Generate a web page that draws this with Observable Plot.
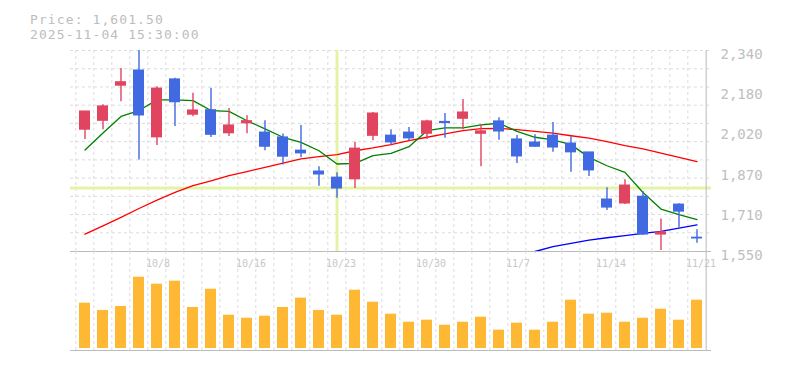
<!DOCTYPE html>
<html>
<head>
<meta charset="utf-8">
<script src="https://cdn.jsdelivr.net/npm/d3@7"></script>
<script src="https://cdn.jsdelivr.net/npm/@observablehq/plot@0.6"></script>
<style>
  body { margin: 0; background: #fff; }
  #wrap { position: relative; width: 785px; height: 370px; overflow: hidden; background: #fff; }
  #wrap svg { position: absolute; left: 0; top: 0; }
  .t { position: absolute; left: 30px; font: 13px/15px "DejaVu Sans Mono", monospace; letter-spacing: 1.1px; color: #bdbdbd; white-space: pre; }
</style>
</head>
<body>
<div id="wrap">
  <div class="t" id="t1" style="top:11.8px"></div>
  <div class="t" id="t2" style="top:26.8px"></div>
</div>
<script>
// ---- data ----
const titleLine1 = "Price: 1,601.50";
const titleLine2 = "2025-11-04 15:30:00";

const dates = ["10/2","10/3","10/6","10/7","10/8","10/9","10/10","10/14","10/15","10/16","10/17","10/20","10/21","10/22","10/23","10/24","10/27","10/28","10/29","10/30","10/31","11/4","11/5","11/6","11/7","11/10","11/11","11/12","11/13","11/14","11/17","11/18","11/19","11/20","11/21"];
const opens  = [2029,2064,2202,2261,1999,2226,2088,2105,2015,2054,2017,1998,1946,1864,1840,1834,2005,2005,2017,2013,2059,2072,2013,2061,1990,1978,2005,1974,1939,1754,1739,1765,1617,1734,1604];
const highs  = [2100,2127,2269,2340,2198,2231,2172,2192,2112,2084,2064,2012,2045,1883,1860,1979,2096,2029,2037,2066,2092,2147,2049,2076,2006,2009,2057,2001,1939,1801,1832,1785,1678,1738,1635];
const lows   = [1990,2029,2139,1910,1967,2041,2080,1998,2002,2013,1946,1890,1918,1806,1759,1798,1985,1969,1985,1990,1995,2029,1883,1987,1896,1959,1940,1861,1845,1711,1735,1613,1554,1641,1582];
const closes = [2100,2120,2215,2085,2190,2137,2104,2009,2045,2062,1962,1923,1936,1853,1798,1954,2092,1979,1995,2061,2055,2096,2022,2022,1924,1962,1959,1940,1869,1723,1809,1617,1625,1707,1601.5];
const ma5  = [1949,2016,2081,2104,2146,2146,2143,2104,2101,2064,2032,1999,1979,1946,1894,1896,1927,1936,1962,2025,2036,2036,2048,2054,2022,1999,1989,1970,1920,1887,1861,1782,1717,1695,1675];
const ma25 = [1618,1651,1684,1719,1752,1782,1809,1828,1848,1864,1881,1897,1914,1923,1931,1946,1957,1970,1986,1999,2012,2025,2033,2034,2029,2022,2015,2005,1996,1982,1966,1953,1937,1920,1903];
const ma75 = [null,null,null,null,null,null,null,null,null,null,null,null,null,null,null,null,null,null,null,null,null,null,null,null,null,1550,1569,1582,1595,1604,1612,1621,1629,1642,1655];
const volumes = [467,392,433,735,663,694,423,611,343,312,333,423,519,392,343,601,477,354,271,292,240,271,323,189,261,189,271,498,354,364,271,312,405,292,498];

const xTickDates = ["10/8","10/16","10/23","10/30","11/7","11/14","11/21"];
const yTickValues = [1550,1708,1866,2024,2182,2340];
const yTickLabels = ["1,550","1,710","1,870","2,020","2,180","2,340"];
const crossDate = "10/23";
const crossPrice = 1800;
const priceDomain = [1550, 2340];

// ---- layout / style ----
const W = 785, H = 370, ML = 70, MR = 74;
const step = (W - ML - MR) / dates.length;
const UP = "#e0445f", DOWN = "#4169e1";
const GRID = {stroke: "#dcdcdc", strokeDasharray: "3,3", strokeWidth: 1};
const BORDER = "#bbbbbb";

document.getElementById("t1").textContent = titleLine1;
document.getElementById("t2").textContent = titleLine2;

const candles = dates.map((d, i) => ({date: d, open: opens[i], high: highs[i], low: lows[i], close: closes[i]}));
const col = d => d.close >= d.open ? UP : DOWN;

const xScale = () => ({type: "band", domain: dates, paddingInner: 0.4, paddingOuter: 0.2, axis: null});

// horizontal grid: square cells from the top edge
const pxPerUnit = (251 - 50) / (priceDomain[1] - priceDomain[0]);
const hGrid = d3.range(11).map(k => priceDomain[1] - k * 18.23 / pxPerUnit);

const price = Plot.plot({
  width: W, height: H,
  marginLeft: ML, marginRight: MR, marginTop: 50, marginBottom: H - 251,
  x: xScale(),
  y: {domain: priceDomain, axis: null},
  color: {type: "identity"},
  style: {background: "transparent", fontFamily: "DejaVu Sans Mono, monospace", overflow: "visible"},
  marks: [
    Plot.ruleY(hGrid, GRID),
    Plot.ruleX(dates, {x: d => d, dx: -step / 2, ...GRID}),
    Plot.ruleY([crossPrice], {stroke: "#e4f4a6", strokeWidth: 3}),
    Plot.ruleX([crossDate], {x: d => d, stroke: "#e4f4a6", strokeWidth: 3}),
    Plot.line(dates, {x: d => d, y: (d, i) => ma75[i], stroke: "#0000ff", strokeWidth: 1.3}),
    Plot.line(dates, {x: d => d, y: (d, i) => ma25[i], stroke: "#ff0000", strokeWidth: 1.3}),
    Plot.line(dates, {x: d => d, y: (d, i) => ma5[i], stroke: "#008000", strokeWidth: 1.3}),
    Plot.ruleX(candles, {x: "date", y1: "low", y2: "high", stroke: col, strokeWidth: 1.4}),
    Plot.barY(candles, {x: "date", y1: "open", y2: "close", fill: col, insetTop: -0.6, insetBottom: -0.6}),
    Plot.ruleY([priceDomain[0]], {stroke: BORDER}),
    Plot.ruleX([dates[dates.length - 1]], {x: d => d, dx: step / 2, stroke: BORDER}),
    Plot.axisY(yTickValues, {
      anchor: "right", tickSize: 0, tickPadding: 9, dy: 4,
      tickFormat: d => yTickLabels[yTickValues.indexOf(d)],
      fontSize: 14, fill: "#c0c0c0", label: null
    })
  ]
});

const volume = Plot.plot({
  width: W, height: H,
  marginLeft: ML, marginRight: MR, marginTop: 251, marginBottom: 20,
  x: xScale(),
  y: {domain: [0, 1000], insetBottom: 2, axis: null},
  style: {background: "transparent", fontFamily: "DejaVu Sans Mono, monospace", overflow: "visible"},
  marks: [
    Plot.ruleX(dates, {x: d => d, dx: -step / 2, ...GRID}),
    Plot.barY(dates, {x: d => d, y: (d, i) => volumes[i], fill: "#ffb833"}),
    Plot.ruleY([0], {dy: 2, stroke: BORDER}),
    Plot.ruleX([dates[dates.length - 1]], {x: d => d, dx: step / 2, stroke: BORDER}),
    Plot.text(xTickDates, {
      x: d => d, frameAnchor: "top", lineAnchor: "top", textAnchor: "start",
      dx: -11, dy: 8, fontSize: 10, fill: "#c8c8c8"
    })
  ]
});

const wrap = document.getElementById("wrap");
wrap.appendChild(price);
wrap.appendChild(volume);
</script>
</body>
</html>
